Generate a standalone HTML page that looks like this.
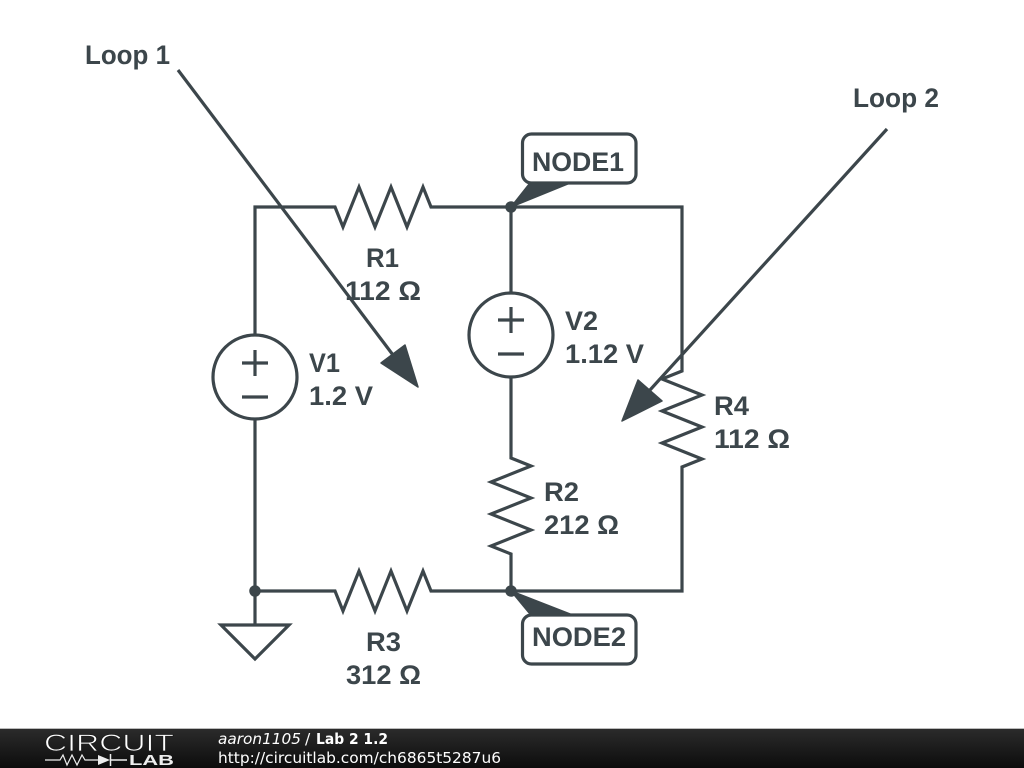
<!DOCTYPE html>
<html><head><meta charset="utf-8"><style>
html,body{margin:0;padding:0;background:#fff}
svg{display:block}
.t{font-family:"Liberation Sans",sans-serif;font-weight:bold;font-size:26.5px;fill:#3c464b}
.f{font-family:"DejaVu Sans",sans-serif;font-size:15.500px;fill:#fff}
</style></head><body>
<svg width="1024" height="768" viewBox="0 0 1024 768" xmlns="http://www.w3.org/2000/svg">
<defs><linearGradient id="g" x1="0" y1="0" x2="0" y2="1"><stop offset="0" stop-color="#2b2b2b"/><stop offset="1" stop-color="#0c0c0c"/></linearGradient></defs>
<rect width="1024" height="768" fill="#fff"/>
<g fill="none" stroke="#3c464b" stroke-width="3.200" stroke-linejoin="miter">
<polyline points="255,335 255,207 335,207 343,227 359,187 375,227 391,187 407,227 423,187 431,207 682,207 682,371 662,379 702,395 662,411 702,427 662,443 702,459 682,467 682,591 511,591 431,591 423,571 407,611 391,571 375,611 359,571 343,611 335,591 255,591 255,419"/>
<line x1="255" y1="591" x2="255" y2="625"/>
<polygon points="221,625 289,625 255,659"/>
<polyline points="511,207 511,293"/>
<polyline points="511,377 511,458 531,466 491,482 531,498 491,514 531,530 491,546 511,554 511,591"/>
<circle cx="255" cy="377" r="42"/>
<circle cx="511" cy="335" r="42"/>
<path d="M242 363H268M255 350V376M242 397H268"/>
<path d="M498 320H524M511 307V333M498 354H524"/>
<rect x="522.500" y="134" width="113.500" height="49" rx="9" fill="#fff"/>
<rect x="522.500" y="615" width="113.500" height="49" rx="9" fill="#fff"/>
<line x1="178" y1="70" x2="393" y2="355"/>
<line x1="887" y1="129" x2="650" y2="390"/>
</g>
<g fill="#3c464b" stroke="#3c464b" stroke-width="1.500" stroke-linejoin="round">
<circle cx="511" cy="207" r="5"/>
<circle cx="255" cy="591" r="5"/>
<circle cx="511" cy="591" r="5"/>
<polygon points="511,207 530,183 570,183"/>
<polygon points="511,591 530,614 570,614"/>
<polygon points="381,363 405,345 418,387"/>
<polygon points="638,380 662,401 622,421"/>
</g>
<text class="t" x="85" y="64" textLength="85" lengthAdjust="spacingAndGlyphs">Loop 1</text>
<text class="t" x="853" y="107" textLength="86" lengthAdjust="spacingAndGlyphs">Loop 2</text>
<text class="t" x="532" y="171" textLength="92" lengthAdjust="spacingAndGlyphs">NODE1</text>
<text class="t" x="532" y="646" textLength="94" lengthAdjust="spacingAndGlyphs">NODE2</text>
<text class="t" x="366" y="267" textLength="33" lengthAdjust="spacingAndGlyphs">R1</text>
<text class="t" x="345" y="300" textLength="76" lengthAdjust="spacingAndGlyphs">112 Ω</text>
<text class="t" x="309" y="372" textLength="31" lengthAdjust="spacingAndGlyphs">V1</text>
<text class="t" x="309" y="405" textLength="64" lengthAdjust="spacingAndGlyphs">1.2 V</text>
<text class="t" x="565" y="330" textLength="33" lengthAdjust="spacingAndGlyphs">V2</text>
<text class="t" x="565" y="363" textLength="79" lengthAdjust="spacingAndGlyphs">1.12 V</text>
<text class="t" x="714" y="415" textLength="35" lengthAdjust="spacingAndGlyphs">R4</text>
<text class="t" x="714" y="448" textLength="76" lengthAdjust="spacingAndGlyphs">112 Ω</text>
<text class="t" x="544" y="501" textLength="35" lengthAdjust="spacingAndGlyphs">R2</text>
<text class="t" x="544" y="534" textLength="75" lengthAdjust="spacingAndGlyphs">212 Ω</text>
<text class="t" x="366" y="651" textLength="35" lengthAdjust="spacingAndGlyphs">R3</text>
<text class="t" x="346" y="684" textLength="75" lengthAdjust="spacingAndGlyphs">312 Ω</text>
<rect x="0" y="729" width="1024" height="39" fill="url(#g)"/>
<rect x="0" y="728" width="1024" height="1" fill="#bbb"/>
<text x="44" y="751" font-family="Liberation Sans,sans-serif" font-size="24.500" fill="#fff" stroke="#1e1e1e" stroke-width="0.800" textLength="130" lengthAdjust="spacingAndGlyphs">CIRCUIT</text>
<path d="M45 760H60L63 755L67 765L72 755L77 765L82 755L85 760H98" fill="none" stroke="#eee" stroke-width="1.200"/>
<polygon points="98,755 110,760 98,765" fill="#eee"/>
<path d="M110.500 754V766M110 760H127" stroke="#eee" stroke-width="1.500" fill="none"/>
<text x="129" y="765" font-family="Liberation Sans,sans-serif" font-weight="bold" font-size="14.500" fill="#eee" textLength="45" lengthAdjust="spacingAndGlyphs">LAB</text>
<text class="f" x="218" y="744" font-style="italic" textLength="83" lengthAdjust="spacingAndGlyphs">aaron1105</text>
<text class="f" x="305" y="744">/</text>
<text class="f" x="316" y="744" font-weight="bold" textLength="72" lengthAdjust="spacingAndGlyphs">Lab 2 1.2</text>
<text class="f" x="218" y="763" textLength="283" lengthAdjust="spacingAndGlyphs">http://circuitlab.com/ch6865t5287u6</text>
</svg>
</body></html>
